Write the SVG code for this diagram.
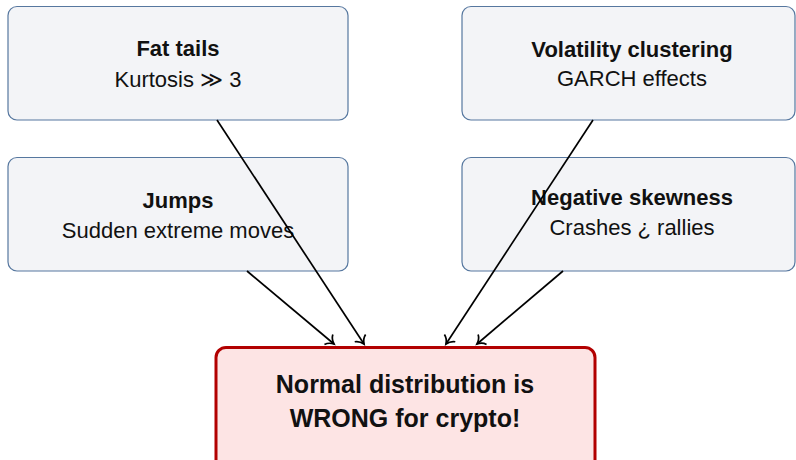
<svg xmlns="http://www.w3.org/2000/svg" width="796" height="460" viewBox="0 0 796 460">
<defs>
<style>
.box{fill:#f3f4f7;stroke:#56779f;stroke-width:1.2}
.main{fill:#fde4e4;stroke:#b20000;stroke-width:3}
.t{font-family:"Liberation Sans","DejaVu Sans",sans-serif;font-size:22px;fill:#111;text-anchor:middle}
.b{font-weight:bold}
.big{font-size:25px;font-weight:bold}
.c{fill:none;stroke:#000;stroke-width:1.7}
</style>
<marker id="arr" markerUnits="userSpaceOnUse" markerWidth="20" markerHeight="20" viewBox="-10 -10 20 20" refX="0" refY="0" orient="auto">
<path d="M-7,-6.5 C-5.5,-3 -2,-0.8 0,0 C-2,0.8 -5.5,3 -7,6.5" fill="none" stroke="#000" stroke-width="1.7"/>
</marker>
</defs>
<rect width="796" height="460" fill="#fff"/>
<g id="fat-tails">
<rect class="box" x="8" y="6.5" width="340" height="113.5" rx="9"/>
<text class="t b" x="178" y="56">Fat tails</text>
<text class="t" x="178" y="87">Kurtosis ≫ 3</text>
</g>
<g id="volatility">
<rect class="box" x="462" y="6.5" width="333" height="113.5" rx="9"/>
<text class="t b" x="632" y="57">Volatility clustering</text>
<text class="t" x="632" y="86">GARCH effects</text>
</g>
<g id="jumps">
<rect class="box" x="8" y="157.5" width="340" height="113.5" rx="9"/>
<text class="t b" x="178" y="208">Jumps</text>
<text class="t" x="178" y="238">Sudden extreme moves</text>
</g>
<g id="skewness">
<rect class="box" x="462" y="157.5" width="333" height="113.5" rx="9"/>
<text class="t b" x="632" y="205">Negative skewness</text>
<text class="t" x="632" y="235">Crashes ¿ rallies</text>
</g>
<g id="normal">
<rect class="main" x="216" y="347.5" width="379" height="130" rx="10"/>
<text class="t big" x="405" y="393">Normal distribution is</text>
<text class="t big" x="405" y="427">WRONG for crypto!</text>
</g>
<g id="connectors">
<line class="c" x1="217" y1="120" x2="364" y2="344" marker-end="url(#arr)"/>
<line class="c" x1="247" y1="271" x2="334" y2="344" marker-end="url(#arr)"/>
<line class="c" x1="593" y1="120" x2="446" y2="344" marker-end="url(#arr)"/>
<line class="c" x1="563" y1="271" x2="477" y2="344" marker-end="url(#arr)"/>
</g>
</svg>
